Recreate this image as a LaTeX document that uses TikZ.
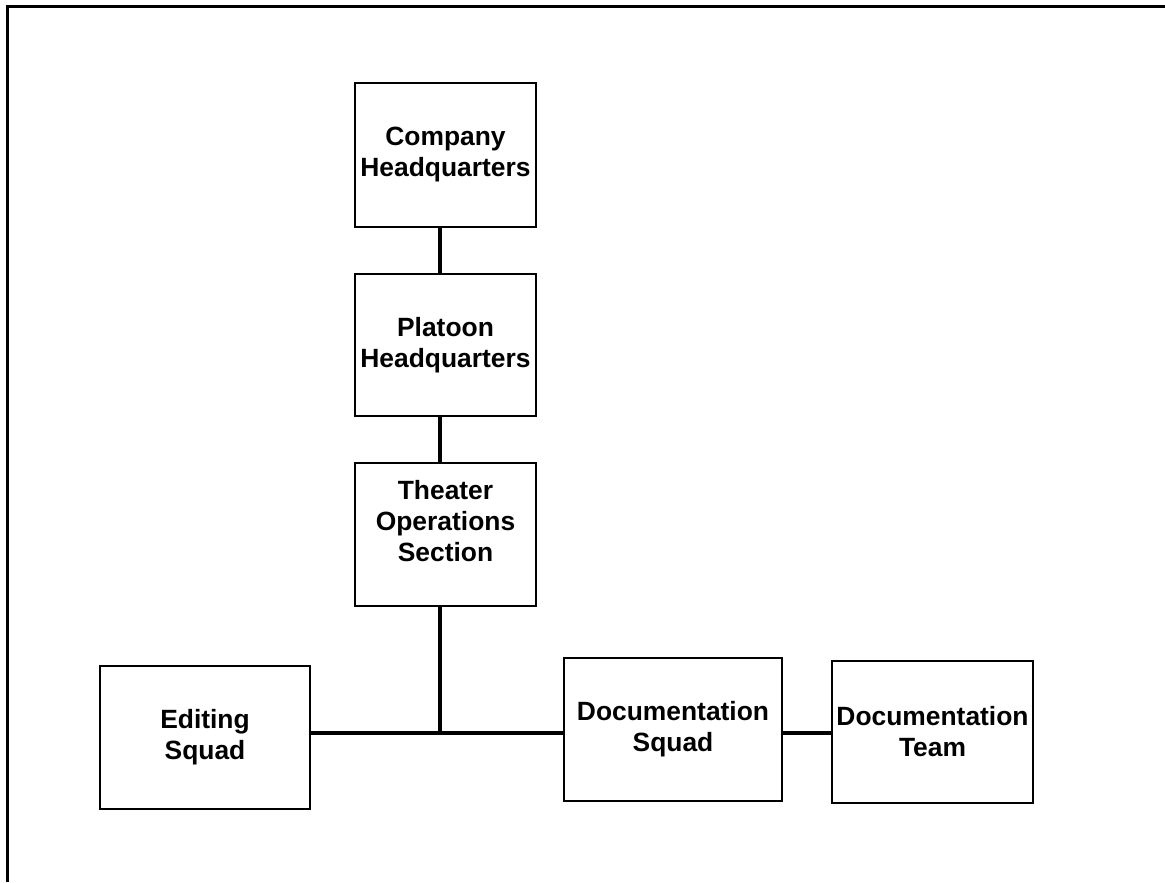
\documentclass[tikz,border=0pt]{standalone}
\usepackage{fontspec}
\setmainfont{Liberation Sans}
\usetikzlibrary{positioning}

\begin{document}
\begin{tikzpicture}[
  x=0.5pt, y=-0.5pt,
  box/.style={draw, line width=1.3pt, align=center, inner sep=0pt,
              font=\bfseries\fontsize{13.2}{15.5}\selectfont},
  link/.style={draw, line width=2pt}
]
\useasboundingbox (0,0) rectangle (1165,882);
\draw[line width=1.5pt] (7,882) -- (7,7) -- (1165,7);

\node[box, minimum width=90.5pt, minimum height=72pt] (chq) at (445.5,155) {Company\\Headquarters};
\node[box, minimum width=90.5pt, minimum height=71pt] (phq) at (445.5,345) {Platoon\\Headquarters};
\node[box, minimum width=90.5pt, minimum height=71.5pt, text depth=14pt] (tos) at (445.5,534.5) {Theater\\Operations\\Section};
\node[box, minimum width=105pt, minimum height=71.5pt] (edit) at (205,737.5) {Editing\\Squad};
\node[box, minimum width=109pt, minimum height=71.5pt] (dsq) at (673,729.5) {Documentation\\Squad};
\node[box, minimum width=100.5pt, minimum height=71pt] (dteam) at (932.5,732) {Documentation\\Team};
\coordinate (hub) at (440,733);

\path[link] (chq.south -| hub) -- (phq.north -| hub);
\path[link] (phq.south -| hub) -- (tos.north -| hub);
\path[link, line cap=rect] (tos.south -| hub) -- (hub);
\path[link] (edit.east |- hub) -- (dsq.west |- hub);
\path[link] (dsq.east |- hub) -- (dteam.west |- hub);
\end{tikzpicture}
\end{document}
